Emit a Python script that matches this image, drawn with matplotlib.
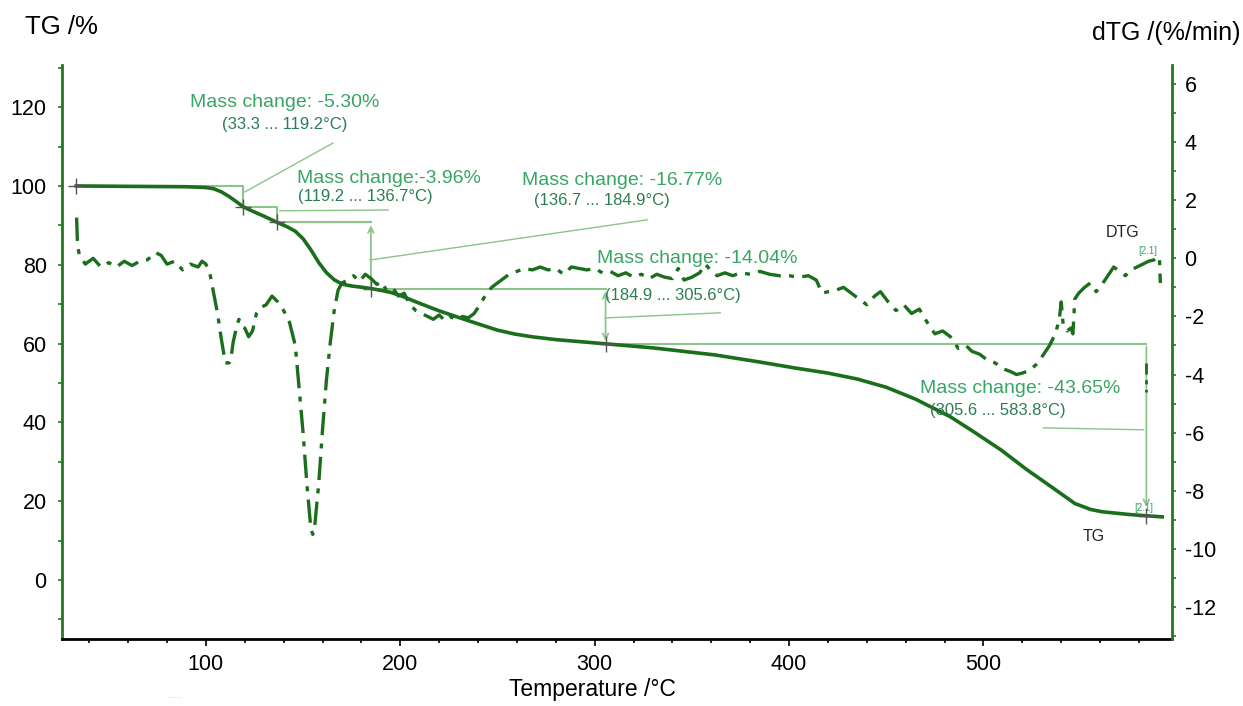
import matplotlib
matplotlib.use("Agg")
import matplotlib.pyplot as plt
from matplotlib.ticker import MultipleLocator

plt.rcParams["font.family"] = ["Liberation Sans", "DejaVu Sans"]
plt.rcParams["axes.unicode_minus"] = False

# TG curve (%)
tg_temp = [33.3, 60, 90, 100, 104, 108, 112, 116, 119.2, 124, 130, 136.7, 142, 146, 150,
           154, 158, 162, 166, 170, 175, 180, 184.9, 190, 195, 200, 210, 220, 232, 240,
           250, 259, 268, 280, 292, 305.6, 330, 362, 385, 403, 420, 435, 450, 465, 483, 495, 509,
           522, 535, 547, 555, 561, 575, 583.8, 592]
tg_val = [100, 99.9, 99.8, 99.6, 99.3, 98.5, 97.3, 95.9, 94.7, 93.6, 92.3, 90.74, 89.6, 88.5, 86.6,
          83.8, 80.6, 78.0, 76.2, 75.1, 74.6, 74.3, 73.97, 73.5, 73.0, 72.2, 70.2, 68.3, 66.3, 65.0,
          63.4, 62.4, 61.7, 61.0, 60.5, 59.93, 58.9, 57.1, 55.3, 53.8, 52.5, 51.0, 48.9, 45.9, 41.4,
          37.6, 33.0, 28.1, 23.6, 19.4, 17.9, 17.3, 16.6, 16.28, 16.0]

# DTG curve (%/min)
dtg_temp = [33.5, 34, 35, 38, 42, 46, 50, 54, 58, 62, 66, 70, 74, 77, 80, 84, 88, 92, 96, 98,
            100, 102, 104, 106, 108, 110, 112, 113, 114, 116, 117, 118, 120, 122, 124, 126, 128,
            131, 134, 137, 140, 143, 146, 148, 150, 152, 154, 155, 156, 158, 160, 162, 164, 166,
            168, 170, 173, 176, 179, 182, 185, 188, 190, 193, 196, 199, 202, 205, 208, 211, 214,
            217, 220, 223, 226, 229, 232, 235, 238, 241, 244, 247, 250, 253, 256, 260, 264, 268,
            272, 276, 280, 284, 288, 292, 296, 300, 304, 308, 312, 316, 320, 324, 328, 332, 336,
            340, 343, 346, 350, 354, 357, 360, 363, 367, 371, 375, 380, 385, 390, 395, 400, 405,
            410, 414, 417, 420, 424, 428, 432, 436, 440, 444, 447, 451, 455, 459, 463, 467, 471,
            475, 479, 483, 487, 491, 494, 498, 502, 506, 510, 514, 517, 520, 524, 528, 531, 534,
            537, 539, 540, 541, 543, 545, 546, 547, 549, 552, 555, 558, 561, 564, 567, 570, 573,
            576, 579, 582, 585, 588, 590.5, 591]
dtg_val = [1.4, 0.4, 0.1, -0.2, 0.0, -0.3, -0.15, -0.3, -0.1, -0.25, -0.1, -0.05, 0.2, 0.1, -0.2,
           -0.1, -0.4, -0.2, -0.3, -0.1, -0.2, -0.5, -1.2, -1.9, -2.8, -3.6, -3.6, -3.4, -2.9, -2.3,
           -2.1, -2.3, -2.4, -2.7, -2.5, -1.9, -1.7, -1.6, -1.3, -1.5, -1.8, -2.2, -3.0, -4.5, -6.0,
           -7.8, -9.3, -9.5, -9.2, -7.8, -5.9, -4.2, -2.9, -1.8, -1.1, -0.85, -0.75, -0.6, -0.8,
           -0.55, -0.7, -0.9, -0.8, -1.1, -1.0, -1.3, -1.2, -1.6, -1.8, -1.9, -2.0, -2.1, -1.95,
           -2.15, -2.0, -2.15, -2.0, -2.05, -1.9, -1.6, -1.25, -1.0, -0.85, -0.7, -0.55, -0.45,
           -0.35, -0.4, -0.3, -0.4, -0.35, -0.55, -0.3, -0.35, -0.4, -0.35, -0.5, -0.45, -0.6,
           -0.5, -0.65, -0.55, -0.7, -0.55, -0.65, -0.7, -0.35, -0.75, -0.65, -0.5, -0.2, -0.45,
           -0.6, -0.5, -0.6, -0.5, -0.55, -0.45, -0.55, -0.6, -0.6, -0.65, -0.6, -0.75, -1.2,
           -1.15, -1.1, -1.0, -1.2, -1.4, -1.6, -1.3, -1.15, -1.5, -1.8, -1.6, -1.9, -1.75, -2.2,
           -2.6, -2.5, -2.7, -3.1, -3.0, -3.2, -3.3, -3.5, -3.6, -3.8, -3.9, -4.0, -3.95, -3.85,
           -3.6, -3.3, -3.0, -2.6, -2.1, -1.5, -2.3, -2.5, -2.4, -2.6, -1.4, -1.2, -1.0, -0.85,
           -1.15, -0.9, -0.6, -0.3, -0.45, -0.6, -0.4, -0.3, -0.2, -0.1, -0.05, 0.05, -0.85]

# short dark stub on the last arrow (dTG units)
stub_temp = [583.8, 583.8]
stub_val = [-3.6, -4.6]

# step boundaries (°C) and TG at those points
step_temp = [33.3, 119.2, 136.7, 184.9, 305.6, 583.8]
step_tg = [100, 94.7, 90.74, 73.97, 59.93, 16.28]
mass_change = ["-5.30%", "-3.96%", "-16.77%", "-14.04%", "-43.65%"]
ranges = ["(33.3 ... 119.2°C)", "(119.2 ... 136.7°C)", "(136.7 ... 184.9°C)",
          "(184.9 ... 305.6°C)", "(305.6 ... 583.8°C)"]

dark = "#1b6e1b"
spine_green = "#1f7a1f"
light = "#8cc48c"
txt1 = "#38a564"
txt2 = "#2b7d55"

fig = plt.figure(figsize=(12.43, 7.06), dpi=100)
ax = fig.add_axes([0.0499, 0.0949, 0.893, 0.813])
ax2 = ax.twinx()

ax.set_xlim(26, 597)
ax.set_ylim(-15, 130.7)
ax2.set_ylim(-13.1, 6.65)

# annotation steps
ax.plot([step_temp[0], step_temp[1], step_temp[1]], [step_tg[0], step_tg[0], step_tg[1]], color=light, lw=1.5, zorder=1)
ax.plot([step_temp[1], step_temp[2], step_temp[2]], [step_tg[1], step_tg[1], step_tg[2]], color=light, lw=1.5, zorder=1)
ax.plot([step_temp[2], step_temp[3]], [step_tg[2], step_tg[2]], color=light, lw=1.5, zorder=1)
ax.plot([step_temp[3], step_temp[4]], [step_tg[3], step_tg[3]], color=light, lw=1.5, zorder=1)
ax.plot([step_temp[4], step_temp[5]], [step_tg[4], step_tg[4]], color=light, lw=1.5, zorder=1)
ax.annotate("", xy=(step_temp[3], step_tg[2]), xytext=(step_temp[3], step_tg[3]),
            arrowprops=dict(arrowstyle="->", color=light, lw=1.3), zorder=1)
ax.annotate("", xy=(step_temp[4], step_tg[4]), xytext=(step_temp[4], step_tg[3]),
            arrowprops=dict(arrowstyle="<->", color=light, lw=1.3), zorder=1)
ax.annotate("", xy=(step_temp[5], step_tg[5] + 1.5), xytext=(step_temp[5], step_tg[4]),
            arrowprops=dict(arrowstyle="->", color=light, lw=1.3), zorder=1)

# leader lines
leaders = [((120.1, 98.5), (165.4, 110.9)), ((138.1, 93.7), (193.7, 93.9)),
           ((184.4, 81.2), (327, 91.4)), ((305.4, 66.5), (364.6, 67.8)),
           ((530.9, 38.6), (582.4, 38.1))]
for (x0, y0), (x1, y1) in leaders:
    ax.plot([x0, x1], [y0, y1], color=light, lw=1.0, zorder=1)

# curves
ax.plot(tg_temp, tg_val, color=dark, lw=2.6, zorder=3)
ax2.plot(dtg_temp, dtg_val, color=dark, lw=2.4, ls=(0, (7, 2.5, 1.5, 2.5)), zorder=3)
ax2.plot(stub_temp, stub_val, color=dark, lw=2.0, ls=(0, (4, 2, 1.5, 2)), zorder=3)
ax.plot(step_temp, step_tg, ls="none", marker="+", ms=11, mew=1.0, color="#555555", zorder=4)

# labels for each step
pos1 = [(140.7, 121.3, "center"), (146.8, 102.0, "left"), (262.7, 101.5, "left"),
        (301.3, 81.7, "left"), (467.6, 48.7, "left")]
pos2 = [(140.7, 115.7, "center"), (147.5, 97.2, "left"), (268.9, 96.4, "left"),
        (305.4, 72.1, "left"), (472.7, 43.1, "left")]
for i in range(5):
    sep = ":" if i == 1 else ": "
    ax.text(pos1[i][0], pos1[i][1], "Mass change" + sep + mass_change[i], color=txt1,
            fontsize=14, ha=pos1[i][2], va="center", zorder=5)
    ax.text(pos2[i][0], pos2[i][1], ranges[i], color=txt2, fontsize=12,
            ha=pos2[i][2], va="center", zorder=5)

ax.text(571.5, 88.3, "DTG", fontsize=11.5, ha="center", va="center", color="#222222")
ax.text(584.4, 83.4, "[2.1]", fontsize=7, ha="center", va="center", color=txt1)
ax.text(582.4, 18.3, "[2.1]", fontsize=7, ha="center", va="center", color=txt1)
ax.text(556.6, 10.9, "TG", fontsize=11.5, ha="center", va="center", color="#222222")

# axes styling
for a in (ax, ax2):
    a.spines["top"].set_visible(False)
ax.spines["left"].set_color(spine_green)
ax.spines["left"].set_linewidth(2)
ax.spines["right"].set_visible(False)
ax2.spines["left"].set_visible(False)
ax2.spines["bottom"].set_visible(False)
ax2.spines["right"].set_color(spine_green)
ax2.spines["right"].set_linewidth(2)
ax.spines["bottom"].set_color("black")
ax.spines["bottom"].set_linewidth(2)

ax.xaxis.set_major_locator(MultipleLocator(100))
ax.xaxis.set_minor_locator(MultipleLocator(20))
ax.yaxis.set_major_locator(MultipleLocator(20))
ax.yaxis.set_minor_locator(MultipleLocator(10))
ax2.yaxis.set_major_locator(MultipleLocator(2))
ax2.yaxis.set_minor_locator(MultipleLocator(1))

ax.tick_params(axis="x", which="major", length=5, width=1.2, labelsize=15.5, pad=6)
ax.tick_params(axis="x", which="minor", length=3, width=1.2)
ax.tick_params(axis="y", which="both", length=3, width=1.2, color=spine_green, labelsize=15.5, pad=8)
ax2.tick_params(axis="y", which="both", length=3, width=1.2, color=spine_green, labelsize=15.5, pad=6)
ax.set_xticks([100, 200, 300, 400, 500])

fig.text(0.02, 0.962, "TG /%", fontsize=18.5, ha="left", va="center")
fig.text(0.998, 0.953, "dTG /(%/min)", fontsize=18, ha="right", va="center")
fig.text(0.477, 0.023, "Temperature /°C", fontsize=16.5, ha="center", va="center")
fig.text(0.14, 0.016, ".....", fontsize=8, color="#cccccc", ha="center", va="center")

fig.savefig("out.png", dpi=100)
